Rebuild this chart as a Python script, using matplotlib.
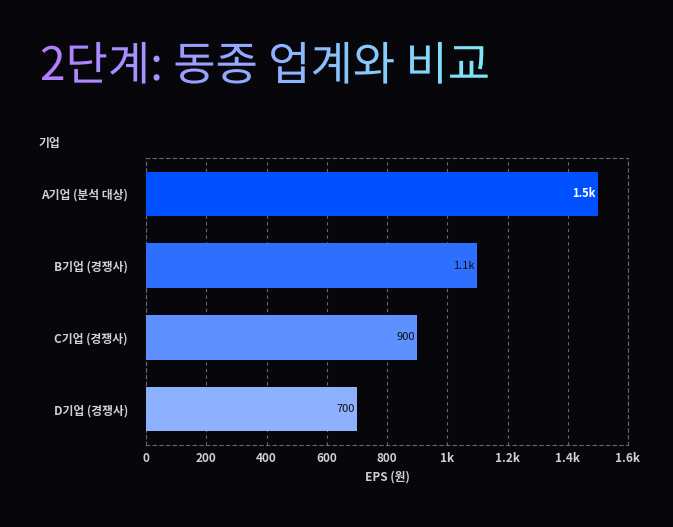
import numpy as np
import matplotlib
matplotlib.use("Agg")
import matplotlib.pyplot as plt
from matplotlib.textpath import TextPath
from matplotlib.patches import PathPatch
from matplotlib.font_manager import FontProperties
from matplotlib.colors import LinearSegmentedColormap
from matplotlib.ticker import FuncFormatter

plt.rcParams['font.family'] = ['Noto Sans CJK KR', 'DejaVu Sans']

companies = ["A기업 (분석 대상)", "B기업 (경쟁사)", "C기업 (경쟁사)", "D기업 (경쟁사)"]
eps = [1500, 1100, 900, 700]
labels = ["1.5k", "1.1k", "900", "700"]
colors = ["#0050FF", "#2F6FFF", "#5E90FF", "#8DB0FF"]
label_colors = ["white", "#111111", "#111111", "#111111"]
xticks = [0, 200, 400, 600, 800, 1000, 1200, 1400, 1600]

bg = "#07070B"
W, H = 673, 527
fig = plt.figure(figsize=(W/100, H/100), dpi=100, facecolor=bg)

ax = fig.add_axes([146/W, 1-445/H, (628-146)/W, (445-158)/H], facecolor=bg)
y = np.arange(len(companies))
ax.barh(y, eps, height=0.62, color=colors, zorder=3)
for yi, v, l, c in zip(y, eps, labels, label_colors):
    ax.text(v - 8, yi, l, ha='right', va='center', color=c, fontsize=8,
            fontweight='bold' if c == 'white' else 'normal', zorder=4)
ax.set_yticks(y)
ax.set_yticklabels(companies)
ax.set_ylim(3.5, -0.5)
ax.set_xlim(0, 1600)
ax.set_xticks(xticks)
ax.xaxis.set_major_formatter(FuncFormatter(lambda v, p: "0" if v == 0 else (f"{v/1000:g}k" if v >= 1000 else f"{int(v)}")))
ax.tick_params(colors="#cfcfd6", labelsize=8.5, length=0)
ax.tick_params(axis='y', pad=13)
ax.tick_params(axis='x', pad=5)
for t in ax.get_xticklabels() + ax.get_yticklabels():
    t.set_fontweight('bold')
ax.grid(axis='x', color='#666670', linestyle=(0, (3, 3)), linewidth=0.8, zorder=0)
for s in ax.spines.values():
    s.set_color('#666670'); s.set_linestyle((0, (3, 3))); s.set_linewidth(0.8)
ax.set_xlabel("EPS (원)", color="#cfcfd6", fontsize=8.5, fontweight='bold', labelpad=4)
fig.text(38/W, 1-143/H, "기업", color="#cfcfd6", fontsize=8.5, fontweight='bold', va='center')

# gradient title
tax = fig.add_axes([0, 0, 1, 1], zorder=-1)
tax.set_axis_off()
tp = TextPath((40, H-80), "2단계: 동종 업계와 비교", size=46,
              prop=FontProperties(family='Noto Sans CJK KR', weight='medium'))
patch = PathPatch(tp, fc='none', ec='none', transform=tax.transData)
tax.add_patch(patch)
cmap = LinearSegmentedColormap.from_list("g", ["#B57CFF", "#8FB0FF", "#7EEBF8"])
grad = np.linspace(0, 1, 256).reshape(1, -1)
im = tax.imshow(grad, extent=[38, 500, H-100, H-30], aspect='auto', cmap=cmap)
im.set_clip_path(patch)
tax.set_xlim(0, W); tax.set_ylim(0, H)

fig.savefig("out.png", dpi=100, facecolor=bg)
